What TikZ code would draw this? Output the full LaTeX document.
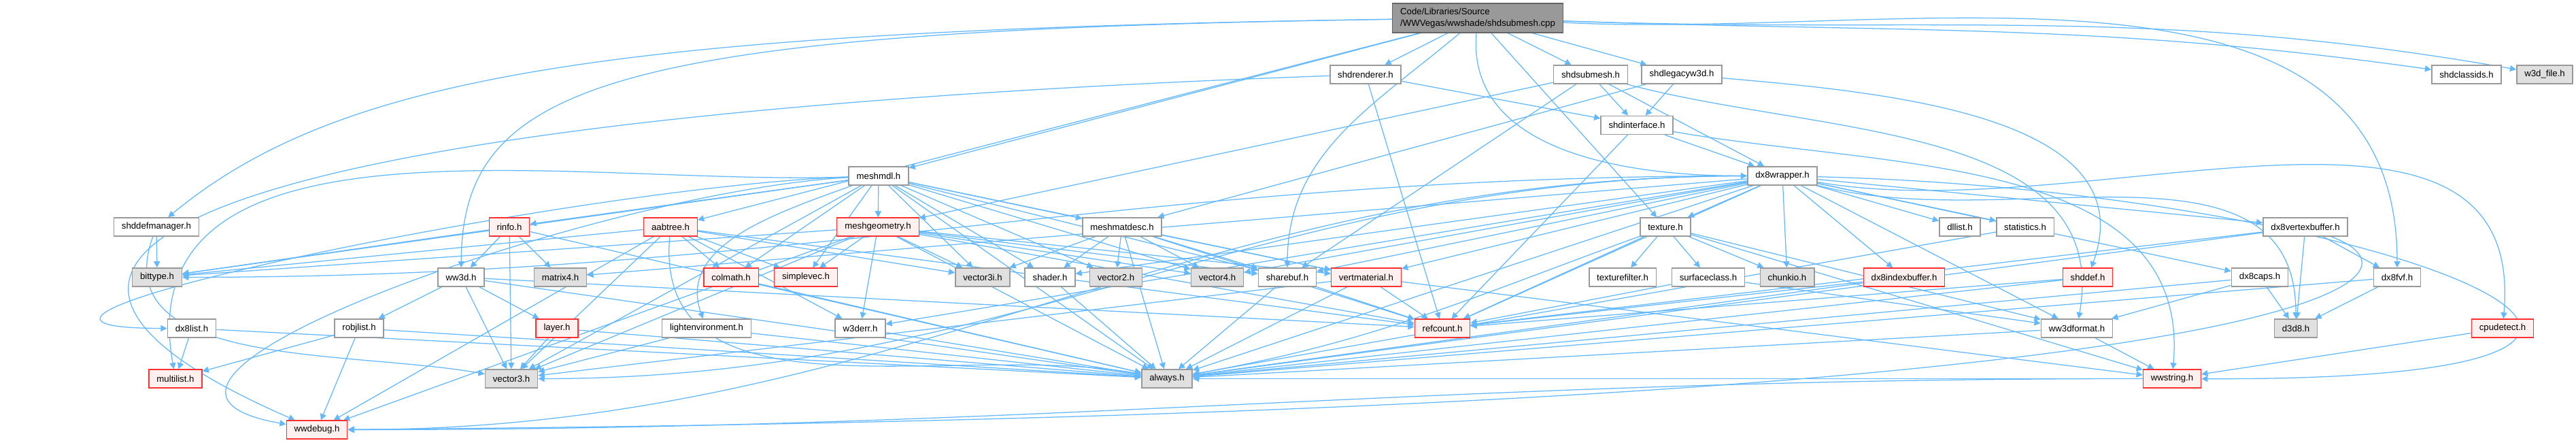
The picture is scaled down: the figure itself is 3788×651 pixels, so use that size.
\documentclass[tikz,border=0pt]{standalone}
\usepackage{fontspec}
\setmainfont{Liberation Sans}
\usetikzlibrary{arrows.meta, backgrounds}
\definecolor{edgeblue}{HTML}{63B8FF}
\definecolor{boxgrey}{HTML}{999999}
\definecolor{darkgrey}{HTML}{666666}
\definecolor{lightgrey}{HTML}{E0E0E0}
\definecolor{lightred}{HTML}{FFF0F0}
\definecolor{boxred}{HTML}{FF3030}
\tikzset{
  file/.style={rectangle, draw=boxgrey, line width=0.22pt, fill=white,
    minimum height=3.84pt, inner xsep=1.63pt, inner ysep=0pt,
    font=\fontsize{1.88}{2.4}\selectfont},
  fileRed/.style={file, draw=boxred, line width=0.17pt, fill=lightred},
  fileGrey/.style={file, fill=lightgrey},
  fileMain/.style={file, draw=darkgrey, fill=boxgrey, align=left, minimum height=6.1pt},
  dep/.style={-{Triangle[length=1.3pt, width=1.3pt]}, edgeblue, line width=0.18pt},
}
\begin{document}
\begin{tikzpicture}[x=0.05mm, y=0.05mm]
\useasboundingbox (0,0) rectangle (3788,-651);
% top rows
\node[fileMain] (main) at (2173,-26.5) {Code/Libraries/Source\\/WWVegas/wwshade/shdsubmesh.cpp};
\node[file] (shdrenderer) at (2008,-109.5) {shdrenderer.h};
\node[file] (shdsubmesh) at (2339,-109.5) {shdsubmesh.h};
\node[file] (shdlegacyw3d) at (2473,-109.5) {shdlegacyw3d.h};
\node[file] (shdclassids) at (3627,-109.5) {shdclassids.h};
\node[fileGrey] (w3dfile) at (3742,-109.5) {w3d\_file.h};
\node[file] (shdinterface) at (2407,-184) {shdinterface.h};
\node[file] (meshmdl) at (1292,-258.5) {meshmdl.h};
\node[file] (dx8wrapper) at (2621,-258.5) {dx8wrapper.h};
% row 4
\node[file] (shddefmgr) at (230,-333.5) {shddefmanager.h};
\node[fileRed] (rinfo) at (749,-333.5) {rinfo.h};
\node[fileRed] (aabtree) at (986,-333.5) {aabtree.h};
\node[fileRed] (meshgeom) at (1291,-333.5) {meshgeometry.h};
\node[file] (meshmatdesc) at (1650,-333.5) {meshmatdesc.h};
\node[file] (texture) at (2449,-333.5) {texture.h};
\node[file] (dllist) at (2882,-333.5) {dllist.h};
\node[file] (statistics) at (2978,-333.5) {statistics.h};
\node[file] (dx8vb) at (3390,-333.5) {dx8vertexbuffer.h};
% row 5
\node[fileGrey] (bittype) at (231,-407.5) {bittype.h};
\node[file] (ww3d) at (678,-407.5) {ww3d.h};
\node[fileGrey] (matrix4) at (824,-407.5) {matrix4.h};
\node[fileRed] (colmath) at (1075,-407.5) {colmath.h};
\node[fileRed] (simplevec) at (1185,-407.5) {simplevec.h};
\node[fileGrey] (vector3i) at (1445,-407.5) {vector3i.h};
\node[file] (shader) at (1544,-407.5) {shader.h};
\node[fileGrey] (vector2) at (1641,-407.5) {vector2.h};
\node[fileGrey] (vector4) at (1790,-407.5) {vector4.h};
\node[file] (sharebuf) at (1893,-407.5) {sharebuf.h};
\node[fileRed] (vertmat) at (2009,-407.5) {vertmaterial.h};
\node[file] (texfilter) at (2386,-407.5) {texturefilter.h};
\node[file] (surfclass) at (2512,-407.5) {surfaceclass.h};
\node[fileGrey] (chunkio) at (2628,-407.5) {chunkio.h};
\node[fileRed] (dx8ib) at (2800,-407.5) {dx8indexbuffer.h};
\node[fileRed] (shddef) at (3070,-407.5) {shddef.h};
\node[file] (dx8caps) at (3323,-407.5) {dx8caps.h};
\node[file] (dx8fvf) at (3525,-407.5) {dx8fvf.h};
% row 6
\node[file] (dx8list) at (282,-482.5) {dx8list.h};
\node[file] (robjlist) at (528,-482.5) {robjlist.h};
\node[fileRed] (layer) at (819,-482.5) {layer.h};
\node[file] (lightenv) at (1039,-482.5) {lightenvironment.h};
\node[file] (w3derr) at (1265,-482.5) {w3derr.h};
\node[fileRed] (refcount) at (2121,-482.5) {refcount.h};
\node[file] (ww3dformat) at (3054,-482.5) {ww3dformat.h};
\node[fileGrey] (d3d8) at (3376,-482.5) {d3d8.h};
\node[fileRed] (cpudetect) at (3680,-482.5) {cpudetect.h};
% bottom rows
\node[fileRed] (multilist) at (258,-556.5) {multilist.h};
\node[fileGrey] (vector3) at (752,-556.5) {vector3.h};
\node[fileGrey] (always) at (1716,-556.5) {always.h};
\node[fileRed] (wwstring) at (3194,-556.5) {wwstring.h};
\node[fileRed] (wwdebug) at (466,-631.5) {wwdebug.h};

\begin{scope}[on background layer]
\draw[dep] (main) edge (shdrenderer) edge (shdsubmesh) edge (shdlegacyw3d)
  edge[out=-2, in=172] (shdclassids) edge[out=-2, in=170] (w3dfile)
  edge[out=-95, in=180] (dx8wrapper) edge (texture) edge[out=-140, in=90] (sharebuf)
  edge (meshmdl) edge (aabtree) edge[out=-3, in=90] (dx8fvf);
\draw[dep] (main) .. controls (900,-45) and (500,-110) .. (shddefmgr);
\draw[dep] (main) .. controls (900,-45) and (680,-120) .. (ww3d);
\draw[dep] (shdrenderer) edge (shdinterface) edge (refcount);
\draw[dep] (shdrenderer) .. controls (600,-160) and (-250,-320) .. (wwdebug);
\draw[dep] (shdsubmesh) edge (shdinterface) edge (dx8wrapper) edge (meshgeom)
  edge (sharebuf) edge[out=-15, in=80] (ww3dformat);
\draw[dep] (shdlegacyw3d) edge (shdinterface) edge (meshmatdesc)
  edge[out=-5, in=70] (shddef);
\draw[dep] (shdinterface) edge (dx8wrapper) edge (refcount)
  edge[out=-10, in=85] (wwstring);
\draw[dep] (meshmdl) edge (meshgeom) edge (meshmatdesc) edge (colmath) edge (simplevec)
  edge (vector3i) edge (shader) edge (vector2) edge (vector4) edge (rinfo)
  edge (bittype) edge (sharebuf) edge (vertmat) edge[out=200, in=110] (lightenv)
  edge (vector3) edge (always)
  edge[out=182, in=100] (multilist) edge[out=182, in=180] (dx8list)
  edge[out=183, in=170] (wwdebug);
\draw[dep] (aabtree) edge (colmath) edge (simplevec) edge (vector3i) edge (bittype)
  edge (vector3) edge (wwdebug) edge[out=-95, in=170] (always) edge (refcount) edge (w3derr);
\draw[dep] (meshgeom) edge (simplevec) edge (vector3i) edge (w3derr) edge (always)
  edge (vector4) edge (vertmat) edge (refcount) edge (bittype) edge (wwdebug)
  edge (vector3) edge (sharebuf);
\draw[dep] (meshmatdesc) edge (vector3i) edge (shader) edge (vector2) edge (vector4)
  edge (always) edge (sharebuf) edge (vertmat) edge (refcount);
\draw[dep] (texture) edge (texfilter) edge (surfclass) edge (chunkio) edge (refcount)
  edge[out=200, in=10] (always) edge (wwstring) edge (ww3dformat);
\draw[dep] (surfclass) edge (refcount) edge (ww3dformat);
\draw[dep] (vertmat) edge (refcount) edge (always) edge (wwstring) edge (vector3);
\draw[dep] (sharebuf) edge (refcount) edge (always);
\draw[dep] (shader) edge (always);
\draw[dep] (w3derr) edge (always);
\draw[dep] (lightenv) edge (always) edge (vector3);
\draw[dep] (colmath) edge (always);
\draw[dep] (ww3d) edge (robjlist) edge (layer) edge (vector3) edge (always) edge (refcount);
\draw[dep] (layer) edge (vector3) edge (always);
\draw[dep] (robjlist) edge (multilist) edge (wwdebug) edge (always);
\draw[dep] (dx8list) edge (multilist) edge (always);
\draw[dep] (rinfo) edge (ww3d) edge (matrix4) edge (bittype) edge (always) edge (vector3);
\draw[dep] (shddefmgr) edge (bittype) edge[out=-110, in=170] (vector3);
\draw[dep] (dx8wrapper) edge (texture) edge (vertmat) edge (dllist) edge (statistics)
  edge (dx8vb) edge (dx8ib) edge (dx8caps) edge[out=-10, in=85] (cpudetect)
  edge[out=-15, in=90] (d3d8)
  edge (shader) edge (vector4) edge (matrix4) edge[out=180, in=0] (bittype)
  edge[out=180, in=0] (wwdebug) edge[out=180, in=0] (vector3) edge (always)
  edge (w3derr) edge (refcount) edge (ww3dformat) edge (chunkio) edge (sharebuf);
\draw[dep] (dx8wrapper) .. controls (3500,-280) and (4200,-560) .. (wwstring);
\draw[dep] (dx8vb) edge (dx8fvf) edge (d3d8) edge (always) edge (refcount);
\draw[dep] (dx8vb) .. controls (3620,-420) and (3300,-610) .. (wwdebug);
\draw[dep] (dx8ib) edge (refcount) edge (always);
\draw[dep] (dx8caps) edge (ww3dformat) edge (d3d8) edge (always);
\draw[dep] (dx8fvf) edge (d3d8) edge (always);
\draw[dep] (shddef) edge (refcount) edge (always);
\draw[dep] (statistics) edge (always);
\draw[dep] (ww3dformat) edge (wwstring) edge (always);
\draw[dep] (cpudetect) edge (wwstring);
\draw[dep] (wwstring) edge[out=180, in=0] (wwdebug) edge (always);
\end{scope}
\end{tikzpicture}
\end{document}
